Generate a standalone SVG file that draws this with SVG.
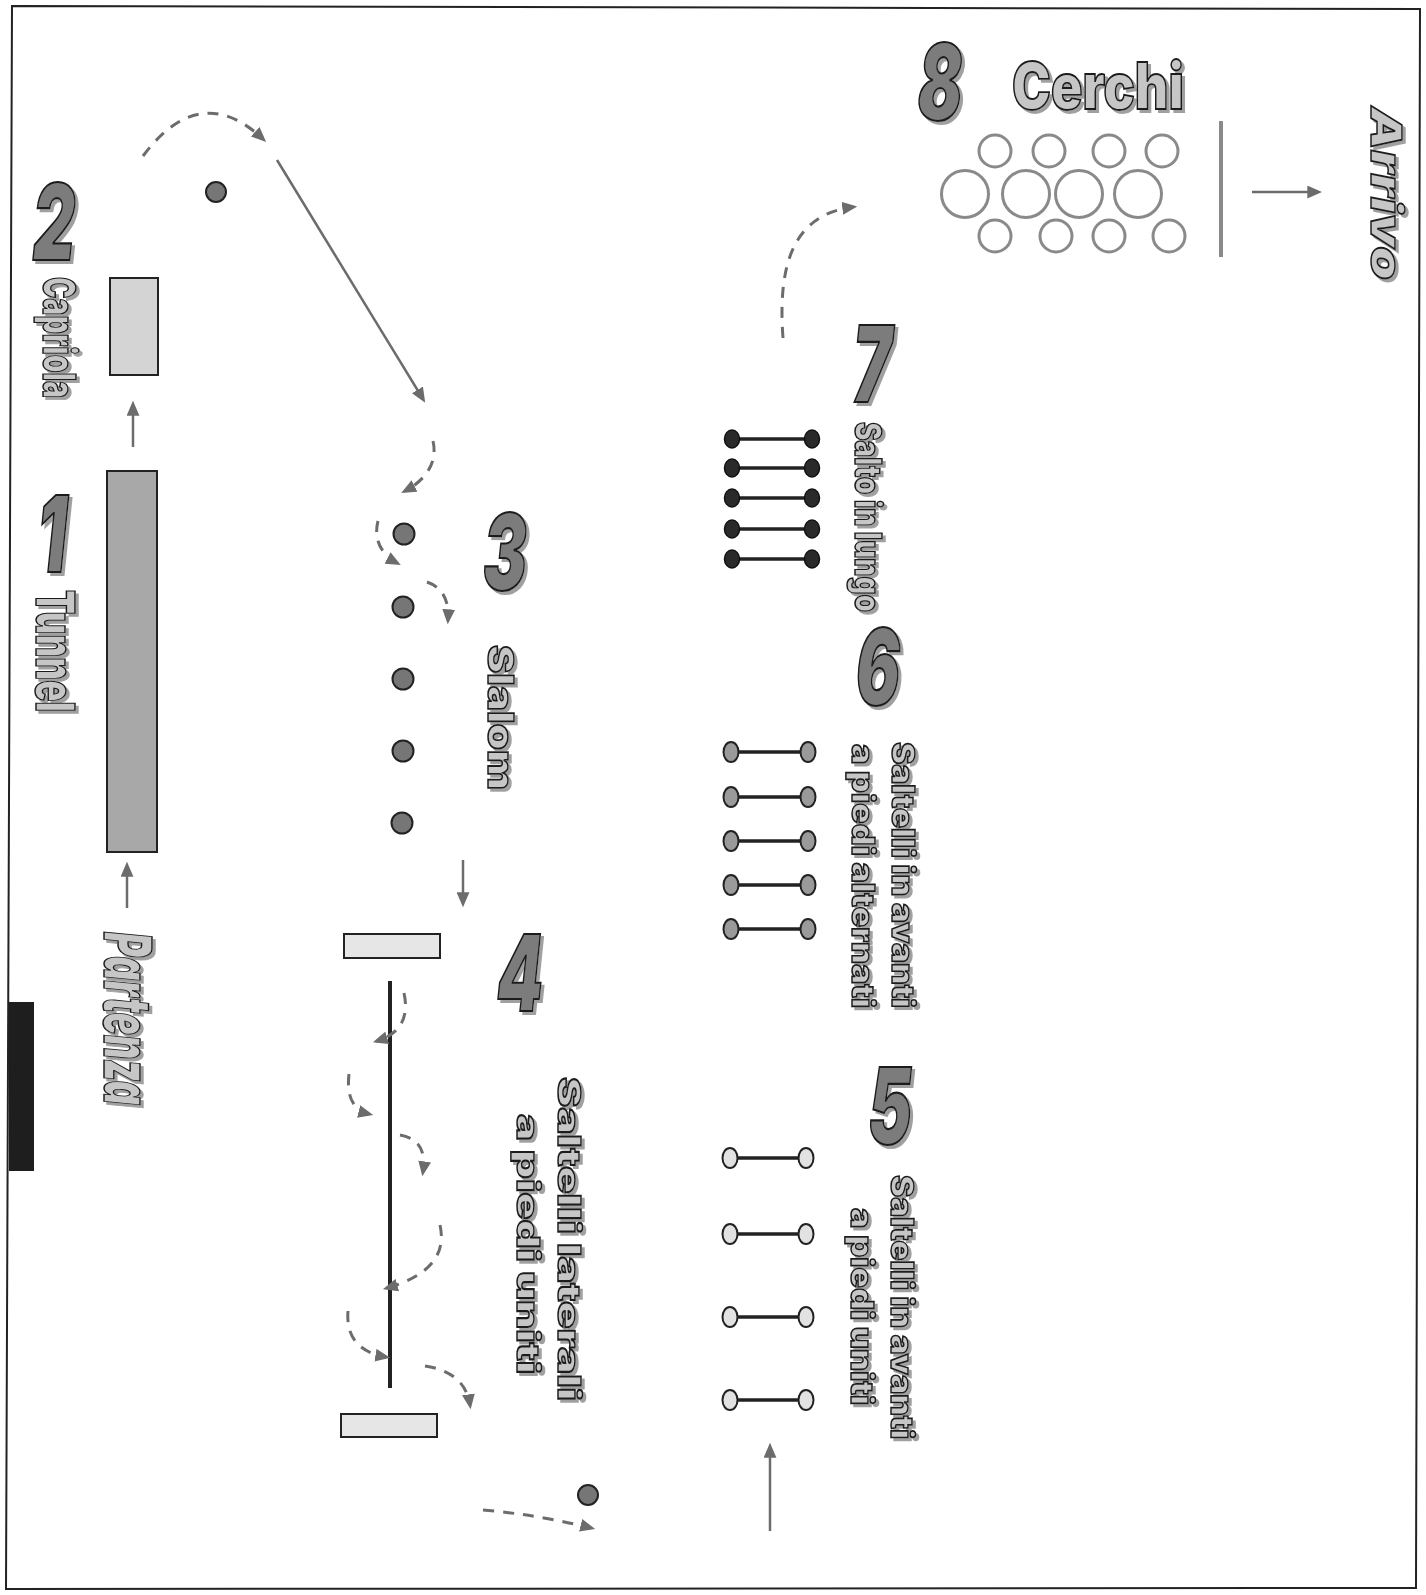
<svg xmlns="http://www.w3.org/2000/svg" width="1426" height="1595" viewBox="0 0 1426 1595">
<defs>
<style>
.lbl{font-family:Inter,"Liberation Sans",Arial,sans-serif;font-weight:900;fill:#c6c6c6;stroke:#1a1a1a;stroke-width:1.5}
.it{font-style:italic}
.num{font-family:Inter,"Liberation Sans",Arial,sans-serif;font-weight:900;font-style:italic;fill:#7c7c7c;stroke:#1a1a1a;stroke-width:2.2;font-size:106px}
.arr{stroke:#6c6c6c;stroke-width:2.5;fill:none;marker-end:url(#ah)}
.dash{stroke:#6c6c6c;stroke-width:3;fill:none;stroke-dasharray:11 9;marker-end:url(#ah)}
.dot{fill:#767676;stroke:#222;stroke-width:2}
.rung{stroke:#222;stroke-width:3.5}
.hoop{fill:none;stroke:#8a8a8a;stroke-width:3}
</style>
<marker id="ah" viewBox="0 0 14 12" refX="10" refY="6" markerWidth="15" markerHeight="13" markerUnits="userSpaceOnUse" orient="auto">
<path d="M0,0 L14,6 L0,12 z" fill="#6c6c6c"/>
</marker>
<filter id="sh" x="-20%" y="-20%" width="140%" height="140%">
<feDropShadow dx="3" dy="3" stdDeviation="0.6" flood-color="#a0a0a0" flood-opacity="1"/>
</filter>
</defs>
<rect width="1426" height="1595" fill="#ffffff"/>
<path id="border" d="M12,6 L1420,9 L1416,1588 L6,1589 Z" fill="none" stroke="#222" stroke-width="2"/>
<rect id="black-tab" x="9" y="1002" width="25" height="169" fill="#1e1e1e"/>

<g id="node-partenza" filter="url(#sh)">
<text class="lbl it" font-size="66" transform="translate(104,932) rotate(90)" textLength="173" lengthAdjust="spacingAndGlyphs">Partenza</text>
</g>

<g id="node-1-tunnel">
<rect x="107" y="471" width="50" height="381" fill="#a8a8a8" stroke="#222" stroke-width="2"/>
<g filter="url(#sh)">
<text class="num" text-anchor="middle" transform="translate(52,572) scale(0.62,1)">1</text>
<text class="lbl" font-size="54" transform="translate(36,590) rotate(90)" textLength="122" lengthAdjust="spacingAndGlyphs">Tunnel</text>
</g>
</g>

<g id="node-2-capriola">
<rect x="110" y="278" width="48" height="97" fill="#d4d4d4" stroke="#222" stroke-width="2"/>
<circle class="dot" cx="216" cy="192" r="10"/>
<g filter="url(#sh)">
<text class="num" text-anchor="middle" transform="translate(54,260) scale(0.62,1)">2</text>
<text class="lbl" font-size="45" transform="translate(43,277) rotate(90)" textLength="121" lengthAdjust="spacingAndGlyphs">Capriola</text>
</g>
</g>

<g id="node-3-slalom">
<circle class="dot" cx="404" cy="534" r="10.5"/>
<circle class="dot" cx="403" cy="607" r="10.5"/>
<circle class="dot" cx="403" cy="679" r="10.5"/>
<circle class="dot" cx="403" cy="751" r="10.5"/>
<circle class="dot" cx="402" cy="823" r="10.5"/>
<g filter="url(#sh)">
<text class="num" text-anchor="middle" transform="translate(505,590) scale(0.62,1)">3</text>
<text class="lbl" font-size="36" transform="translate(488,645) rotate(90)" textLength="145" lengthAdjust="spacingAndGlyphs">Slalom</text>
</g>
</g>

<g id="node-4-saltelli-laterali">
<rect x="344" y="934" width="96" height="24" fill="#e6e6e6" stroke="#222" stroke-width="2"/>
<rect x="341" y="1414" width="96" height="23" fill="#e6e6e6" stroke="#222" stroke-width="2"/>
<line x1="390" y1="981" x2="390" y2="1388" stroke="#222" stroke-width="4"/>
<circle class="dot" cx="588" cy="1495" r="10"/>
<g filter="url(#sh)">
<text class="num" text-anchor="middle" transform="translate(520,1011) scale(0.62,1)">4</text>
<text class="lbl" font-size="31" transform="translate(558,1077) rotate(90)" textLength="324" lengthAdjust="spacingAndGlyphs">Saltelli laterali</text>
<text class="lbl" font-size="31" transform="translate(517,1114) rotate(90)" textLength="260" lengthAdjust="spacingAndGlyphs">a piedi uniti</text>
</g>
</g>

<g id="node-5-saltelli-uniti">
<line class="rung" x1="730" y1="1158" x2="806" y2="1158"/>
<line class="rung" x1="730" y1="1234" x2="806" y2="1234"/>
<line class="rung" x1="730" y1="1317" x2="806" y2="1317"/>
<line class="rung" x1="730" y1="1400" x2="806" y2="1400"/>
<g fill="#e2e2e2" stroke="#222" stroke-width="2">
<ellipse cx="730" cy="1158" rx="7.5" ry="10"/><ellipse cx="806" cy="1158" rx="7.5" ry="10"/>
<ellipse cx="730" cy="1234" rx="7.5" ry="10"/><ellipse cx="806" cy="1234" rx="7.5" ry="10"/>
<ellipse cx="730" cy="1317" rx="7.5" ry="10"/><ellipse cx="806" cy="1317" rx="7.5" ry="10"/>
<ellipse cx="730" cy="1400" rx="7.5" ry="10"/><ellipse cx="806" cy="1400" rx="7.5" ry="10"/>
</g>
<g filter="url(#sh)">
<text class="num" text-anchor="middle" transform="translate(890,1144) scale(0.62,1)">5</text>
<text class="lbl" font-size="31" transform="translate(891,1175) rotate(90)" textLength="264" lengthAdjust="spacingAndGlyphs">Saltelli in avanti</text>
<text class="lbl" font-size="31" transform="translate(851,1208) rotate(90)" textLength="197" lengthAdjust="spacingAndGlyphs">a piedi uniti</text>
</g>
</g>

<g id="node-6-saltelli-alternati">
<line class="rung" x1="731" y1="752" x2="808" y2="752"/>
<line class="rung" x1="731" y1="797" x2="808" y2="797"/>
<line class="rung" x1="731" y1="841" x2="808" y2="841"/>
<line class="rung" x1="731" y1="885" x2="808" y2="885"/>
<line class="rung" x1="731" y1="929" x2="808" y2="929"/>
<g fill="#9a9a9a" stroke="#222" stroke-width="2">
<ellipse cx="731" cy="752" rx="7.5" ry="10"/><ellipse cx="808" cy="752" rx="7.5" ry="10"/>
<ellipse cx="731" cy="797" rx="7.5" ry="10"/><ellipse cx="808" cy="797" rx="7.5" ry="10"/>
<ellipse cx="731" cy="841" rx="7.5" ry="10"/><ellipse cx="808" cy="841" rx="7.5" ry="10"/>
<ellipse cx="731" cy="885" rx="7.5" ry="10"/><ellipse cx="808" cy="885" rx="7.5" ry="10"/>
<ellipse cx="731" cy="929" rx="7.5" ry="10"/><ellipse cx="808" cy="929" rx="7.5" ry="10"/>
</g>
<g filter="url(#sh)">
<text class="num" text-anchor="middle" transform="translate(878,705) scale(0.62,1)">6</text>
<text class="lbl" font-size="31" transform="translate(892,742) rotate(90)" textLength="266" lengthAdjust="spacingAndGlyphs">Saltelli in avanti</text>
<text class="lbl" font-size="31" transform="translate(852,744) rotate(90)" textLength="264" lengthAdjust="spacingAndGlyphs">a piedi alternati</text>
</g>
</g>

<g id="node-7-salto-in-lungo">
<line class="rung" x1="732" y1="439" x2="812" y2="439"/>
<line class="rung" x1="732" y1="468" x2="812" y2="468"/>
<line class="rung" x1="732" y1="498" x2="812" y2="498"/>
<line class="rung" x1="732" y1="529" x2="812" y2="529"/>
<line class="rung" x1="732" y1="559" x2="812" y2="559"/>
<g fill="#2a2a2a" stroke="#111" stroke-width="1.5">
<ellipse cx="732" cy="439" rx="7.5" ry="9"/><ellipse cx="812" cy="439" rx="7.5" ry="9"/>
<ellipse cx="732" cy="468" rx="7.5" ry="9"/><ellipse cx="812" cy="468" rx="7.5" ry="9"/>
<ellipse cx="732" cy="498" rx="7.5" ry="9"/><ellipse cx="812" cy="498" rx="7.5" ry="9"/>
<ellipse cx="732" cy="529" rx="7.5" ry="9"/><ellipse cx="812" cy="529" rx="7.5" ry="9"/>
<ellipse cx="732" cy="559" rx="7.5" ry="9"/><ellipse cx="812" cy="559" rx="7.5" ry="9"/>
</g>
<g filter="url(#sh)">
<text class="num" text-anchor="middle" transform="translate(872,402) scale(0.62,1)">7</text>
<text class="lbl" font-size="37" transform="translate(855,422) rotate(90)" textLength="190" lengthAdjust="spacingAndGlyphs">Salto in lungo</text>
</g>
</g>

<g id="node-8-cerchi">
<circle class="hoop" cx="995" cy="151" r="16"/>
<circle class="hoop" cx="1049" cy="151" r="16"/>
<circle class="hoop" cx="1109" cy="151" r="16"/>
<circle class="hoop" cx="1162" cy="151" r="16"/>
<circle class="hoop" cx="965" cy="194" r="23.5"/>
<circle class="hoop" cx="1026" cy="194" r="23.5"/>
<circle class="hoop" cx="1079" cy="194" r="23.5"/>
<circle class="hoop" cx="1138" cy="194" r="23.5"/>
<circle class="hoop" cx="995" cy="236" r="16"/>
<circle class="hoop" cx="1056" cy="236" r="16"/>
<circle class="hoop" cx="1109" cy="236" r="16"/>
<circle class="hoop" cx="1169" cy="236" r="16"/>
<line x1="1221" y1="121" x2="1221" y2="257" stroke="#8a8a8a" stroke-width="4"/>
<g filter="url(#sh)">
<text class="num" text-anchor="middle" transform="translate(940,120) scale(0.62,1)">8</text>
<text class="lbl" font-size="64" x="1012" y="109" textLength="172" lengthAdjust="spacingAndGlyphs" style="stroke-width:1.8">Cerchi</text>
</g>
</g>

<g id="node-arrivo" filter="url(#sh)">
<text class="lbl it" font-size="43" transform="translate(1371,107) rotate(90)" textLength="173" lengthAdjust="spacingAndGlyphs">Arrivo</text>
</g>

<g id="connectors">
<line class="arr" x1="127" y1="908" x2="127" y2="866"/>
<line class="arr" x1="133" y1="447" x2="133" y2="405"/>
<path class="dash" d="M143,156 Q200,80 263,139"/>
<line class="arr" x1="277" y1="160" x2="423" y2="399"/>
<path class="dash" d="M433,441 C438,462 426,480 405,491"/>
<path class="dash" d="M378,521 C373,540 382,555 397,563"/>
<path class="dash" d="M427,582 Q450,590 448,620"/>
<line class="arr" x1="463" y1="860" x2="463" y2="903"/>
<path class="dash" d="M404,993 Q412,1030 377,1041"/>
<path class="dash" d="M349,1074 Q345,1108 369,1114"/>
<path class="dash" d="M400,1135 Q428,1140 423,1172"/>
<path class="dash" d="M440,1225 Q450,1270 387,1288"/>
<path class="dash" d="M348,1311 Q345,1350 386,1357"/>
<path class="dash" d="M425,1366 Q465,1372 470,1405"/>
<path class="dash" d="M483,1510 Q540,1515 591,1528"/>
<line class="arr" x1="770" y1="1531" x2="770" y2="1447"/>
<path class="dash" d="M783,338 C778,270 790,215 853,207"/>
<line class="arr" x1="1252" y1="192" x2="1318" y2="192"/>
</g>
</svg>
